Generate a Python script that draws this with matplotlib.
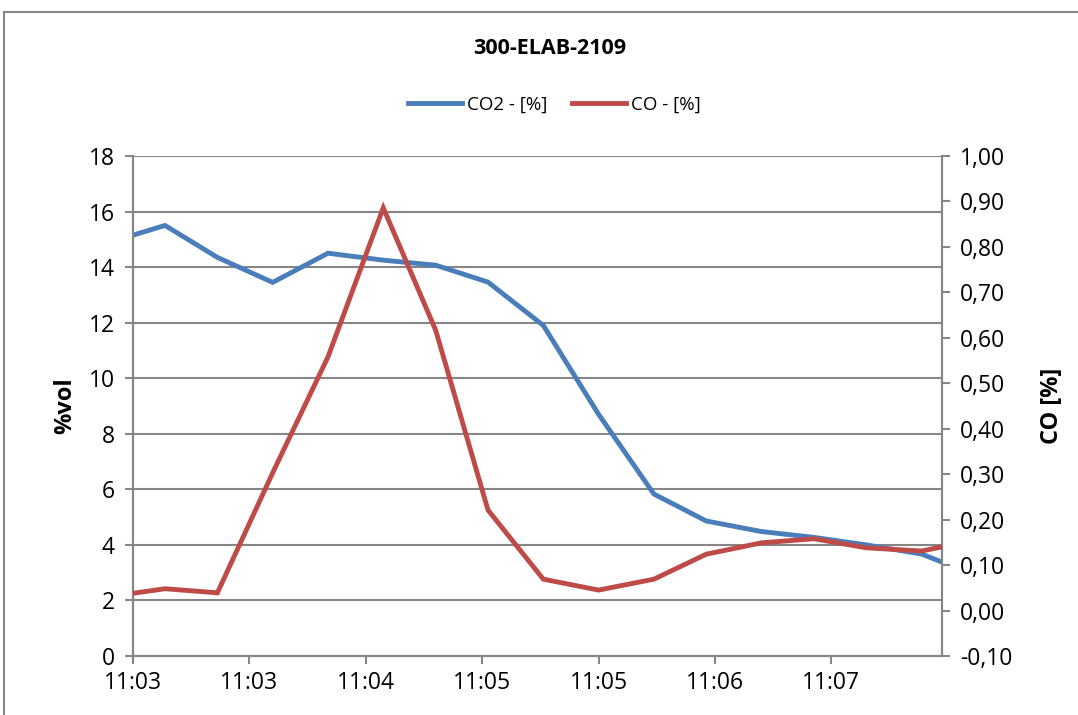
import numpy as np
import pandas as pd
import matplotlib
matplotlib.use('Agg')
import matplotlib.pyplot as plt
import matplotlib.dates as mdates
from matplotlib.lines import Line2D
from matplotlib.ticker import FuncFormatter

plt.rcParams['font.family'] = ['Open Sans', 'DejaVu Sans']

# sample times
times = ['11:03:05', '11:03:16', '11:03:34', '11:03:53', '11:04:12', '11:04:31',
         '11:04:49', '11:05:07', '11:05:26', '11:05:45', '11:06:04', '11:06:22',
         '11:06:41', '11:06:59', '11:07:17', '11:07:36', '11:07:43']
co2 = [15.15, 15.5, 14.35, 13.45, 14.5, 14.25, 14.07, 13.46, 11.9, 8.7,
       5.83, 4.86, 4.48, 4.27, 4.0, 3.67, 3.38]
co = [0.038, 0.048, 0.039, 0.303, 0.558, 0.886, 0.617, 0.221, 0.069, 0.045,
      0.069, 0.124, 0.149, 0.158, 0.138, 0.131, 0.140]
tick_times = ['11:03:05', '11:03:45', '11:04:25', '11:05:05', '11:05:45', '11:06:25', '11:07:05']

t = pd.to_datetime(['2020-01-01 ' + s for s in times])
tt = pd.to_datetime(['2020-01-01 ' + s for s in tick_times])

blue = '#4A7EBB'
red = '#BE4B48'
grey = '#868686'

fig = plt.figure(figsize=(10.78, 7.15), dpi=100)
ax = fig.add_axes([133/1078, 1-656/715, (942-133)/1078, 500/715])
ax2 = ax.twinx()

ax.plot(t, co2, color=blue, lw=3.5, solid_joinstyle='miter', zorder=3)
ax2.plot(t, co, color=red, lw=3.5, solid_joinstyle='miter', zorder=3)

ax.set_xlim(t[0], t[-1])
ax.set_ylim(0, 18)
ax.set_yticks(np.arange(0, 19, 2))
ax2.set_ylim(-0.1, 1.0)
ax2.set_yticks(np.linspace(-0.1, 1.0, 12))
ax2.yaxis.set_major_formatter(FuncFormatter(lambda v, p: f'{v:.2f}'.replace('.', ',')))

ax.set_xticks(tt)
ax.xaxis.set_major_formatter(mdates.DateFormatter('%H:%M'))

ax.yaxis.grid(True, color=grey, lw=1.5)
ax.set_axisbelow(True)

for a in (ax, ax2):
    for s in a.spines.values():
        s.set_color(grey)
        s.set_linewidth(1.5)
    a.spines['top'].set_visible(False)
    a.tick_params(colors=grey, labelcolor='black', labelsize=16.5, width=1.5, length=6)
ax.tick_params(axis='y', pad=7)
ax2.tick_params(axis='y', pad=7)
ax.tick_params(axis='x', pad=5)

ax.set_ylabel('%vol', fontsize=17, fontweight='bold', labelpad=8)
ax2.set_ylabel('CO [%]', fontsize=17, fontweight='bold', labelpad=20)

fig.text(550/1078, 1-48/715, '300-ELAB-2109', ha='center', va='center',
         fontsize=15.5, fontweight='bold')

handles = [Line2D([], [], color=blue, lw=3.5), Line2D([], [], color=red, lw=3.5)]
fig.legend(handles, ['CO2 - [%]', 'CO - [%]'], loc='center', ncol=2,
           bbox_to_anchor=(554/1078, 1-105/715), frameon=False, fontsize=13.5,
           handlelength=2.9, columnspacing=1.3, handletextpad=0.25)

# chart area border
fig.add_artist(Line2D([4/1078, 4/1078], [0, 1-12/715], color=grey, lw=1.5))
fig.add_artist(Line2D([4/1078, 1], [1-12/715, 1-12/715], color=grey, lw=1.5))

fig.savefig('out.png', dpi=100)
